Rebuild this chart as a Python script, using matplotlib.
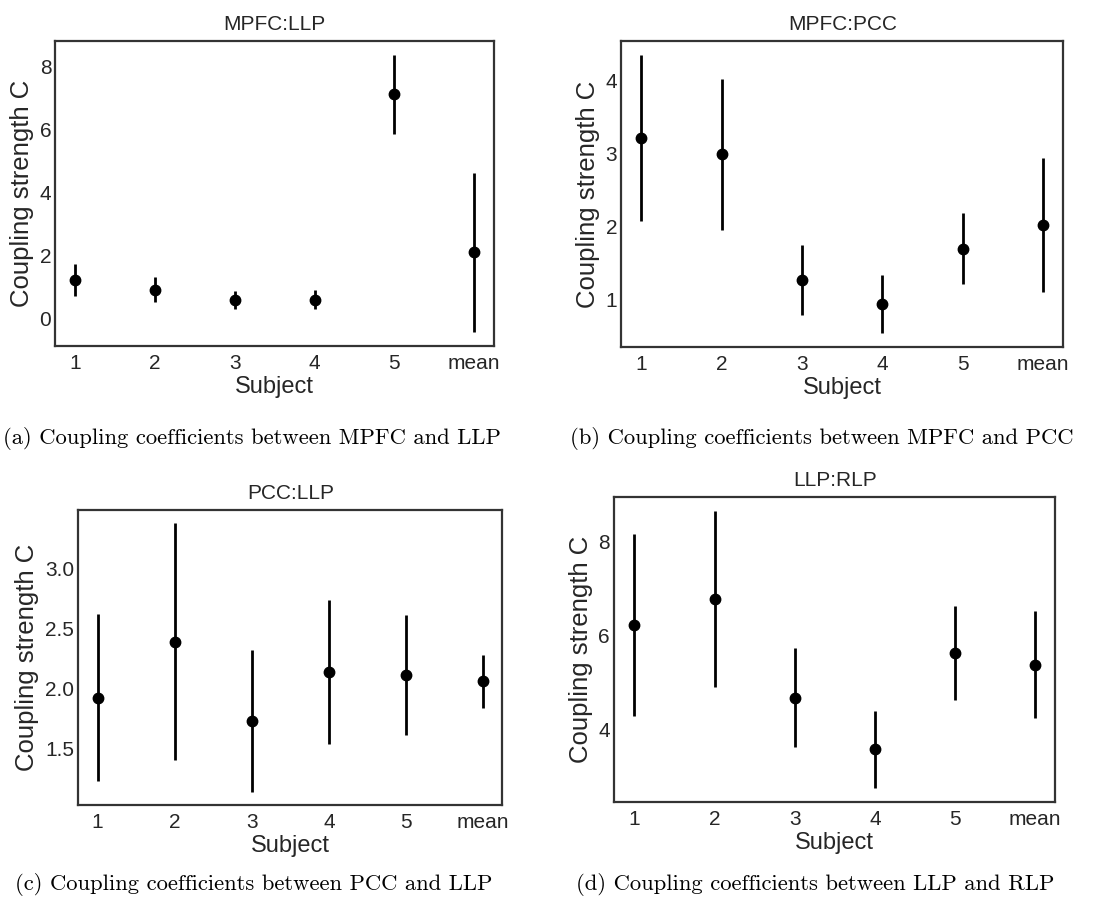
import numpy as np
import matplotlib
matplotlib.use("Agg")
import matplotlib.pyplot as plt
from matplotlib.ticker import MultipleLocator

# subjects on the x axis
subjects = ['1', '2', '3', '4', '5', 'mean']

# MPFC:LLP
mpfc_llp = [1.22, 0.90, 0.58, 0.58, 7.11, 2.09]
mpfc_llp_lo = [0.71, 0.50, 0.29, 0.29, 5.85, -0.45]
mpfc_llp_hi = [1.72, 1.32, 0.87, 0.89, 8.37, 4.61]

# MPFC:PCC
mpfc_pcc = [3.21, 2.99, 1.27, 0.95, 1.70, 2.02]
mpfc_pcc_lo = [2.08, 1.95, 0.80, 0.55, 1.22, 1.11]
mpfc_pcc_hi = [4.34, 4.01, 1.75, 1.34, 2.19, 2.94]

# PCC:LLP
pcc_llp = [1.92, 2.39, 1.73, 2.14, 2.11, 2.06]
pcc_llp_lo = [1.225, 1.40, 1.14, 1.54, 1.61, 1.84]
pcc_llp_hi = [2.62, 3.375, 2.32, 2.74, 2.61, 2.28]

# LLP:RLP
llp_rlp = [6.22, 6.78, 4.68, 3.59, 5.63, 5.38]
llp_rlp_lo = [4.29, 4.91, 3.64, 2.76, 4.64, 4.25]
llp_rlp_hi = [8.16, 8.65, 5.74, 4.41, 6.64, 6.52]

titles = ['MPFC:LLP', 'MPFC:PCC', 'PCC:LLP', 'LLP:RLP']
captions = ['(a) Coupling coefficients between MPFC and LLP',
            '(b) Coupling coefficients between MPFC and PCC',
            '(c) Coupling coefficients between PCC and LLP',
            '(d) Coupling coefficients between LLP and RLP']
ytick_step = [2, 1, 0.5, 2]

plt.rcParams['font.family'] = ['Liberation Sans', 'DejaVu Sans']
plt.rcParams['text.color'] = '#262626'
plt.rcParams['axes.labelcolor'] = '#262626'
plt.rcParams['xtick.color'] = '#262626'
plt.rcParams['ytick.color'] = '#262626'

fig = plt.figure(figsize=(11.12, 9.07), dpi=100)

boxes = [[0.0499, 0.6185, 0.3943, 0.3363],
         [0.5587, 0.6177, 0.3975, 0.3368],
         [0.0704, 0.1125, 0.3813, 0.3252],
         [0.5524, 0.1158, 0.3966, 0.3359]]
cap_pos = [(0.2266, 0.517), (0.739, 0.517), (0.2284, 0.025), (0.733, 0.025)]

data = [(mpfc_llp, mpfc_llp_lo, mpfc_llp_hi),
        (mpfc_pcc, mpfc_pcc_lo, mpfc_pcc_hi),
        (pcc_llp, pcc_llp_lo, pcc_llp_hi),
        (llp_rlp, llp_rlp_lo, llp_rlp_hi)]

x = np.arange(len(subjects))
for i, (vals, lo, hi) in enumerate(data):
    ax = fig.add_axes(boxes[i])
    vals = np.array(vals)
    yerr = [vals - np.array(lo), np.array(hi) - vals]
    ax.errorbar(x, vals, yerr=yerr, fmt='o', color='black', ecolor='black',
                elinewidth=2.0, markersize=7.5, capsize=0)
    ax.set_xticks(x)
    ax.set_xticklabels(subjects)
    ax.yaxis.set_major_locator(MultipleLocator(ytick_step[i]))
    ax.tick_params(length=0, labelsize=15)
    ax.tick_params(axis='x', pad=6)
    ax.tick_params(axis='y', pad=3)
    ax.set_title(titles[i], fontsize=15, pad=8)
    ax.set_xlabel('Subject', fontsize=17, labelpad=2)
    ax.set_ylabel('Coupling strength C', fontsize=18.5, labelpad=4)
    for s in ax.spines.values():
        s.set_color('#333333')
        s.set_linewidth(1.6)
    fig.text(cap_pos[i][0], cap_pos[i][1], captions[i], family='cmr10',
             fontsize=16.3, ha='center', va='center', color='black')

fig.savefig('out.png', dpi=100)
